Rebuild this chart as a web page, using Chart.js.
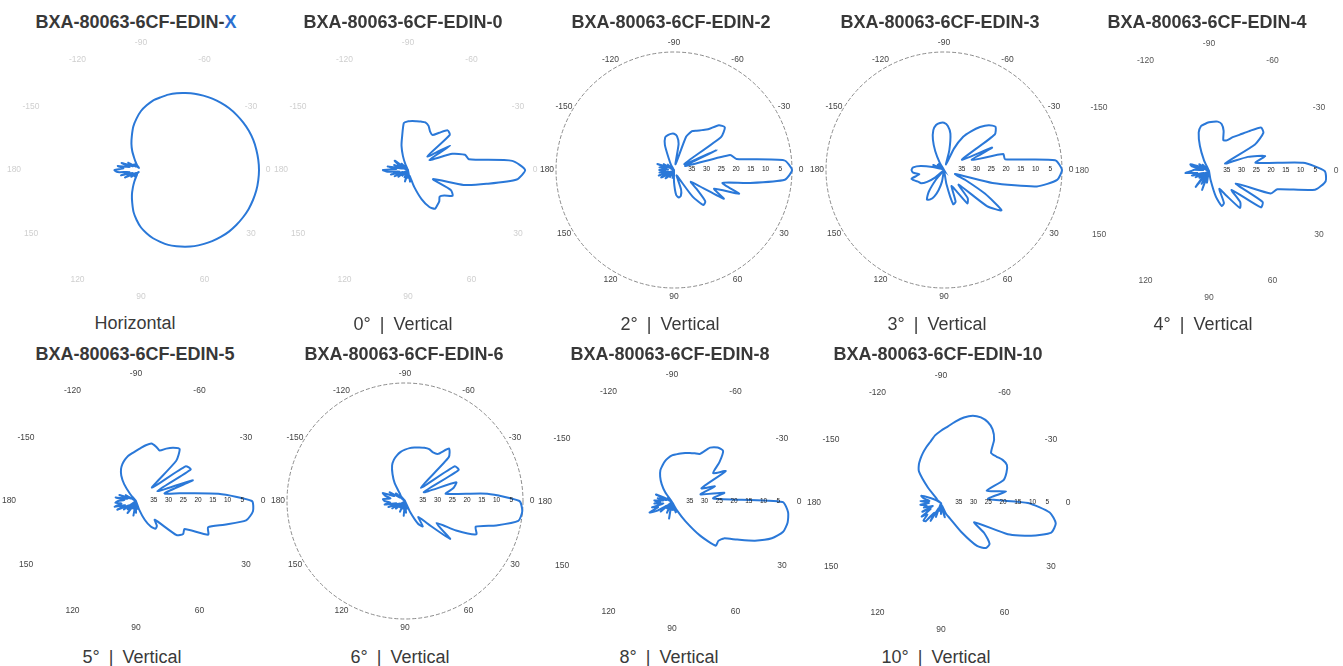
<!DOCTYPE html>
<html>
<head>
<meta charset="utf-8">
<script src="https://cdn.jsdelivr.net/npm/chart.js@4"></script>
<style>
  html, body { margin: 0; padding: 0; background: #fff; }
  body { width: 1343px; height: 666px; position: relative; overflow: hidden; font-family: "Liberation Sans", Arial, sans-serif; }
  .title { position: absolute; width: 320px; text-align: center; font-weight: bold; font-size: 18px; line-height: 18px; color: #383838; white-space: nowrap; }
  .title .hl { color: #2b6fd0; }
  .sub { position: absolute; width: 320px; text-align: center; font-size: 18px; line-height: 18px; color: #3a3a3a; white-space: pre; word-spacing: 4px; }
  canvas.polar { position: absolute; }
</style>
</head>
<body>
<script>
// ---------- data ----------
const angleCategories = [0,5,10,15,20,25,30,35,40,45,50,55,60,65,70,75,80,85,90,95,100,105,110,115,120,125,130,135,140,145,150,155,160,165,170,175,180,185,190,195,200,205,210,215,220,225,230,235,240,245,250,255,260,265,270,275,280,285,290,295,300,305,310,315,320,325,330,335,340,345,350,355];
const angleTickDegrees = [0,30,60,90,120,150,180,210,240,270,300,330];
const angleTickLabels = ['0','30','60','90','120','150','180','-150','-120','-90','-60','-30'];
const radialTickValues = [-35,-30,-25,-20,-15,-10,-5];
const radialTickLabels = ['35','30','25','20','15','10','5'];

// gain in dB, angles 0..180 then -175..-5 (5 degree steps, 72 values each)
const horizontalX = [0,-0.1,-0.3,-0.7,-1.2,-1.9,-2.7,-3.6,-4.7,-5.9,-7.2,-8.5,-10,-11.5,-13,-14.8,-16.5,-18.5,-20.5,-23,-25.5,-28.5,-31,-33.5,-35.5,-37,-38,-37,-39,-36,-38,-34,-37,-33,-36,-32,-31,
  -34,-32,-36,-33,-37,-35,-38,-37,-39,-38,-37,-35.5,-33,-30.5,-28,-25,-22.5,-20,-18,-16,-14.5,-12.8,-11.3,-9.9,-8.4,-7.1,-5.8,-4.6,-3.5,-2.6,-1.8,-1.1,-0.6,-0.3,-0.1];
const vertical0 = [-0.3,-3,-13,-20.5,-31,-24,-22.5,-25,-26,-25,-24.5,-24,-25.5,-29,-34,-38,-36,-40,-37,-40,-38,-36,-40,-37,-40,-38,-40,-37,-40,-36,-39,-35,-38,-34,-37,-33,-31.5,
  -36,-33,-38,-35,-40,-36,-34.5,-39,-37,-40,-38,-40,-38,-35,-31.5,-28.5,-24,-23.5,-23.3,-23.2,-23,-22.8,-23.5,-25,-25.5,-23.5,-21,-21.5,-32,-23.5,-32,-24,-20,-19,-4.5];
const vertical2 = [0,-2.3,-14.5,-23,-16.5,-25,-20.5,-33,-30,-25,-24.5,-29,-37,-38,-33,-31,-30.5,-31.5,-36,-40,-37,-40,-38,-40,-37,-40,-38,-36,-40,-37,-35,-39,-34.5,-38,-35,-37,-35,
  -38,-35,-37,-34,-38,-36,-40,-37,-40,-38,-40,-38,-36,-31,-28.5,-28,-27.7,-27.7,-28.5,-31,-38,-28,-25.5,-24.6,-23.5,-22,-18.5,-17.5,-20.5,-36,-24,-36,-20.3,-18.5,-2.5];
const vertical3 = [0,-1.5,-8,-23,-36,-32,-24,-16.2,-21,-33,-27.5,-26.2,-32,-34,-28.5,-28,-35,-40,-38,-40,-36,-33,-30.5,-29,-28.4,-31,-36,-40,-36,-33,-31,-30.5,-29.5,-28.6,-31.5,-29.5,-29,
  -29.5,-32,-36,-39,-36,-40,-37,-40,-37,-40,-40,-37,-33,-29,-26,-24.5,-24,-24,-25,-27.5,-33,-38,-32,-27,-24,-21,-18.5,-17.2,-19,-33,-22,-30,-19.2,-19,-2.2];
const vertical4 = [-0.8,-0.3,-3.5,-16,-17.7,-30,-19,-18.5,-30,-25,-23.7,-30,-33,-28,-27.4,-31,-37,-40,-38,-40,-36,-39,-33.2,-38,-35,-40,-33,-37,-40,-36,-39,-35,-38,-34,-36,-32,-34,
  -35,-38,-34,-33.3,-37,-40,-36,-39,-37,-40,-38,-40,-36,-31,-26.5,-24.5,-24,-23.5,-23.2,-23,-23.5,-25.5,-28.5,-28,-26,-24,-21,-17,-17.5,-22,-34,-26,-20.3,-24,-8];
const vertical5 = [-0.7,-0.2,-2.1,-9,-14,-13,-21,-20.5,-22,-31,-29,-28.5,-30,-33,-37,-40,-37,-40,-36,-39,-35,-40,-37,-40,-38,-35,-39,-36,-40,-35,-37,-33,-36,-32.5,-35,-33,-34,
  -36,-33,-37,-34,-38,-36,-40,-38,-40,-37,-33,-30,-28,-26.6,-25.5,-24.5,-23.8,-23,-22,-20.8,-19.8,-20.3,-21.1,-19.5,-18,-17,-20.7,-33,-19.5,-18.6,-32,-19.5,-30,-25,-12];
const vertical6 = [-1.2,-0.1,-1,-8,-14.5,-13.3,-20,-27,-20,-29,-33,-29.5,-31,-36,-40,-37,-40,-36,-39,-35,-40,-37,-40,-36,-39,-40,-37,-40,-36,-39,-35,-38,-34,-37,-33,-35,-33,
  -32.5,-35,-33,-32,-36,-34,-38,-36,-40,-38,-37,-33,-30,-27.2,-25.5,-24.3,-23.3,-22.6,-22,-21.6,-21.2,-20.8,-20.6,-21,-20.5,-16.8,-19,-33,-19.5,-19,-33,-21.5,-23,-26,-12];
const vertical8 = [-2.5,-0.5,-0.2,-1,-4,-9,-14.5,-18.5,-19.5,-19,-25,-32,-37,-40,-36,-40,-37,-40,-37,-40,-34.3,-39,-40,-36,-39,-40,-37,-40,-35,-38,-34,-31.6,-35,-33,-37,-34,-36,
  -34,-37,-35,-38,-34,-37,-40,-38,-39,-40,-36,-33,-30.5,-28.5,-27.3,-26,-25,-24.2,-23.8,-23.3,-22.8,-22.3,-21.8,-21.2,-17.5,-15.9,-15.5,-19,-23,-19,-29,-24.5,-30,-22,-26];
const vertical10 = [-10.5,-3,-0.5,-1.3,-7.5,-15,-27,-22,-18.5,-18.4,-21,-28,-34,-36,-39,-35,-38,-40,-36,-40,-37,-40,-35,-38,-33,-36,-32,-31.6,-34,-32,-36,-33,-37,-34,-35,-33,-36,
  -33,-36,-34,-32.9,-36,-38,-40,-38,-38,-33,-27,-25,-23.5,-22,-20.5,-19,-17,-15.5,-14,-12,-10,-8.5,-8,-8.3,-9.5,-12,-16,-15.5,-14.5,-14.2,-15.5,-17.5,-24,-17.6,-24];

// ---------- layout ----------
const panels = [
  {title:'BXA-80063-6CF-EDIN-', hl:'X', sub:'Horizontal', series:horizontalX, cx:141, cy:170, tx:136, ty:13, sx:135, sy:314, labelColor:'#cfcfcf', ring:false, radial:false},
  {title:'BXA-80063-6CF-EDIN-0', sub:'0° | Vertical', series:vertical0, cx:408, cy:170, tx:403, ty:13, sx:403, sy:315, labelColor:'#cfcfcf', ring:false, radial:false},
  {title:'BXA-80063-6CF-EDIN-2', sub:'2° | Vertical', series:vertical2, cx:674, cy:170, tx:671, ty:13, sx:670, sy:315, labelColor:'#444', ring:true, radial:true},
  {title:'BXA-80063-6CF-EDIN-3', sub:'3° | Vertical', series:vertical3, cx:944, cy:170, tx:940, ty:13, sx:937, sy:315, labelColor:'#444', ring:true, radial:true},
  {title:'BXA-80063-6CF-EDIN-4', sub:'4° | Vertical', series:vertical4, cx:1209, cy:171, tx:1207, ty:13, sx:1203, sy:315, labelColor:'#555', ring:false, radial:true},
  {title:'BXA-80063-6CF-EDIN-5', sub:'5° | Vertical', series:vertical5, cx:136, cy:501, tx:135, ty:345, sx:132, sy:648, labelColor:'#444', ring:false, radial:true},
  {title:'BXA-80063-6CF-EDIN-6', sub:'6° | Vertical', series:vertical6, cx:405, cy:501, tx:404, ty:345, sx:400, sy:648, labelColor:'#444', ring:true, radial:true},
  {title:'BXA-80063-6CF-EDIN-8', sub:'8° | Vertical', series:vertical8, cx:672, cy:502, tx:670, ty:345, sx:669, sy:648, labelColor:'#444', ring:false, radial:true},
  {title:'BXA-80063-6CF-EDIN-10', sub:'10° | Vertical', series:vertical10, cx:941, cy:503, tx:938, ty:345, sx:936, sy:648, labelColor:'#444', ring:false, radial:true}
];

const CW = 300, CH = 290, RADIUS = 118;

const polarLabels = {
  id: 'polarLabels',
  afterDraw(chart, args, opts) {
    const s = chart.scales.r;
    const ctx = chart.ctx;
    ctx.save();
    ctx.textAlign = 'center';
    ctx.textBaseline = 'middle';
    ctx.font = '8.5px "Liberation Sans", Arial, sans-serif';
    ctx.fillStyle = opts.color;
    angleTickLabels.forEach((t, k) => {
      const idx = angleCategories.indexOf(angleTickDegrees[k]);
      const p = s.getPointPosition(idx, s.drawingArea + 9);
      ctx.fillText(t, p.x, p.y);
    });
    if (opts.radial) {
      ctx.font = '6.5px "Liberation Sans", Arial, sans-serif';
      ctx.fillStyle = '#222';
      radialTickValues.forEach((v, k) => {
        const p = s.getPointPosition(0, s.getDistanceFromCenterForValue(v) + 3);
        ctx.fillText(radialTickLabels[k], p.x, p.y - 1);
      });
    }
    ctx.restore();
  }
};

panels.forEach(p => {
  const t = document.createElement('div');
  t.className = 'title';
  t.style.left = (p.tx - 160) + 'px';
  t.style.top = p.ty + 'px';
  t.textContent = p.title;
  if (p.hl) { const s = document.createElement('span'); s.className = 'hl'; s.textContent = p.hl; t.appendChild(s); }
  document.body.appendChild(t);

  const sub = document.createElement('div');
  sub.className = 'sub';
  sub.style.left = (p.sx - 160) + 'px';
  sub.style.top = p.sy + 'px';
  sub.textContent = p.sub;
  document.body.appendChild(sub);

  const c = document.createElement('canvas');
  c.className = 'polar';
  c.width = CW; c.height = CH;
  c.style.left = (p.cx - CW / 2) + 'px';
  c.style.top = (p.cy - CH / 2) + 'px';
  document.body.appendChild(c);

  const padX = CW / 2 - RADIUS, padY = CH / 2 - RADIUS;
  new Chart(c, {
    type: 'radar',
    data: {
      labels: angleCategories,
      datasets: [{
        data: p.series,
        borderColor: '#2a78d8',
        borderWidth: 2,
        backgroundColor: 'rgba(0,0,0,0)',
        fill: false,
        pointRadius: 0,
        tension: 0.2,
        clip: false
      }]
    },
    options: {
      responsive: false,
      animation: false,
      events: [],
      layout: { padding: { left: padX, right: padX, top: padY, bottom: padY } },
      plugins: { legend: { display: false }, tooltip: { enabled: false }, polarLabels: { color: p.labelColor, radial: p.radial } },
      scales: {
        r: {
          min: -40, max: 0, startAngle: 90,
          ticks: { display: false, stepSize: 5 },
          pointLabels: { display: false },
          angleLines: { display: false },
          grid: { display: p.ring, circular: true, lineWidth: 1,
            color: (ctx) => (ctx.tick && ctx.tick.value === 0) ? '#8c8c8c' : 'rgba(0,0,0,0)' },
          border: { dash: [4, 2] }
        }
      }
    },
    plugins: [polarLabels]
  });
});
</script>
</body>
</html>
